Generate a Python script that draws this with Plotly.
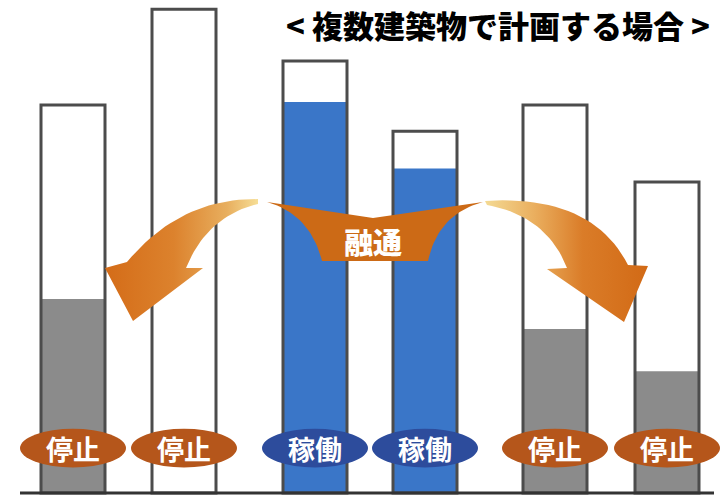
import plotly.graph_objects as go

# --- data -------------------------------------------------------------
buildings = ["A", "B", "C", "D", "E", "F"]
capacity = [80.2, 100.0, 89.3, 74.8, 80.2, 64.3]   # equipment capacity
load = [40.1, 0.0, 80.8, 67.1, 33.9, 25.2]          # share in use
status = ["停止", "停止", "稼働", "稼働", "停止", "停止"]
title_text = "< 複数建築物で計画する場合 >"
transfer_text = "融通"

# --- layout constants -------------------------------------------------
W, H = 721, 496
slot_x = [73, 184, 315, 425, 555, 667]
BAR_W = 64
Y_RANGE = [-0.6, 101.9]
FONT_JP = "Noto Sans CJK JP"

fill_color = {"停止": "#8b8b8b", "稼働": "#3a76c8"}
badge_color = {"停止": "#b5561b", "稼働": "#2d4c9c"}


def bezier(p0, p1, p2, n=24):
    pts = []
    for i in range(n + 1):
        t = i / n
        a, b, c = (1 - t) ** 2, 2 * (1 - t) * t, t ** 2
        pts.append((a * p0[0] + b * p1[0] + c * p2[0],
                    a * p0[1] + b * p1[1] + c * p2[1]))
    return pts


def poly(points):
    xs = [p[0] for p in points] + [points[0][0]]
    ys = [p[1] for p in points] + [points[0][1]]
    return xs, ys


fig = go.Figure()

# white bodies of the capacity columns
fig.add_trace(go.Bar(
    x=slot_x, y=capacity, width=BAR_W,
    marker=dict(color="white", line=dict(width=0)),
    hoverinfo="skip"))

# portion in use
fig.add_trace(go.Bar(
    x=slot_x, y=load, width=BAR_W,
    marker=dict(color=[fill_color[s] for s in status], line=dict(width=0)),
    hovertext=buildings, hoverinfo="text+y"))

# column outlines on top
fig.add_trace(go.Bar(
    x=slot_x, y=capacity, width=BAR_W,
    marker=dict(color="rgba(0,0,0,0)", line=dict(width=3, color="#4c4c4c")),
    hoverinfo="skip"))

# --- transfer arrows (drawn on a pixel-like overlay) -------------------
left_arrow = (bezier((258, 199), (180, 198), (127, 262))
              + [(105, 268), (133, 321), (203, 268)]
              + bezier((186, 268), (207, 216), (258, 204)))
right_arrow = (bezier((485, 201), (592, 194), (628, 265))
               + [(648, 266), (624, 322), (547, 269)]
               + bezier((567, 268), (547, 216), (487, 205)))
wing = ([(267, 202), (373, 218), (483, 202)]
        + bezier((483, 202), (438, 214), (428, 261))[1:]
        + bezier((322, 261), (310, 214), (267, 202))[:-1])

for pts, scale in (
    (left_arrow, [[0, "rgb(212,108,24)"], [0.45, "rgb(220,130,45)"],
                  [0.8, "rgb(232,175,95)"], [1, "rgb(246,222,150)"]]),
    (right_arrow, [[0, "rgb(244,218,148)"], [0.3, "rgb(234,175,95)"],
                   [0.6, "rgb(218,124,40)"], [1, "rgb(210,106,22)"]]),
):
    xs, ys = poly(pts)
    fig.add_trace(go.Scatter(
        x=xs, y=ys, xaxis="x2", yaxis="y2", mode="lines",
        line=dict(width=0), fill="toself",
        fillgradient=dict(type="horizontal", colorscale=scale),
        hoverinfo="skip"))

xs, ys = poly(wing)
fig.add_trace(go.Scatter(
    x=xs, y=ys, xaxis="x2", yaxis="y2", mode="lines",
    line=dict(width=0), fill="toself", fillcolor="rgb(204,106,22)",
    hoverinfo="skip"))

fig.add_annotation(
    x=373, y=241, xref="x2", yref="y2", text=transfer_text,
    showarrow=False,
    font=dict(family=FONT_JP, size=29, color="white", weight=900))

# --- status badges ----------------------------------------------------
for cx, s in zip(slot_x, status):
    fig.add_shape(type="circle", xref="x", yref="y",
                  x0=cx - 53, x1=cx + 53, y0=5.3, y1=13.3,
                  fillcolor=badge_color[s], line=dict(width=0), layer="above")
    fig.add_annotation(x=cx, y=9.3, xref="x", yref="y", text=s,
                       showarrow=False,
                       font=dict(family=FONT_JP, size=27, color="white",
                                 weight=700))

# baseline
fig.add_shape(type="line", xref="x", yref="y", x0=20, x1=714, y0=0, y1=0,
              line=dict(color="#333333", width=3), layer="above")

# title
fig.add_annotation(
    x=0.988, y=1.0, xref="paper", yref="paper", xanchor="right",
    yanchor="top", text=title_text, showarrow=False,
    font=dict(family=FONT_JP, size=31, color="black", weight=900))

fig.update_layout(
    width=W, height=H, margin=dict(l=0, r=0, t=0, b=0),
    paper_bgcolor="white", plot_bgcolor="white",
    barmode="overlay", showlegend=False,
    xaxis=dict(range=[0, W], visible=False, fixedrange=True),
    yaxis=dict(range=Y_RANGE, visible=False, fixedrange=True),
    xaxis2=dict(range=[0, W], overlaying="x", anchor="y2", visible=False),
    yaxis2=dict(range=[H, 0], overlaying="y", anchor="x2", visible=False),
)

fig.write_html("out.html")
